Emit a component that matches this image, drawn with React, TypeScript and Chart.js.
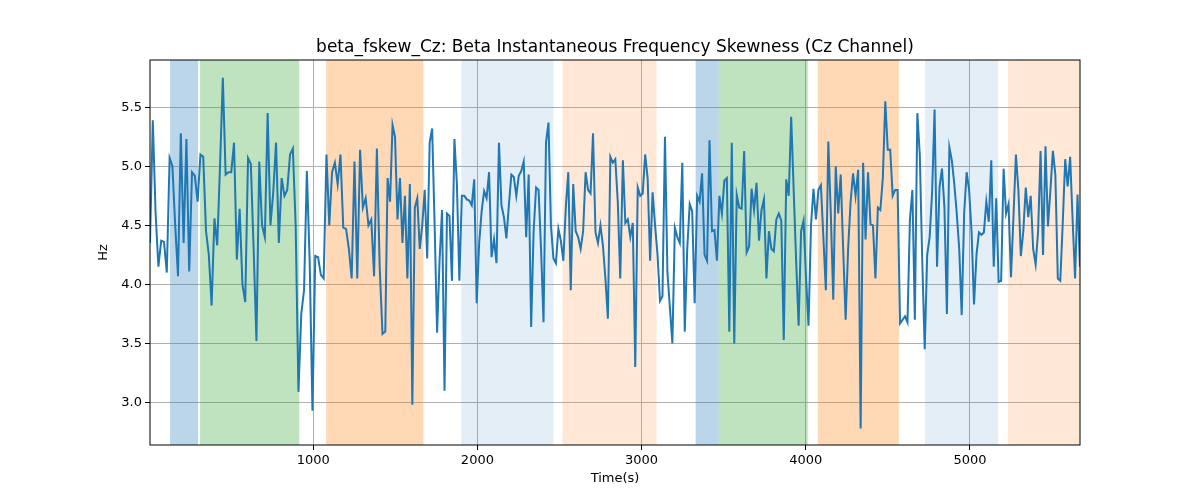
import React, { useEffect, useRef } from "react";
import { Chart, registerables } from "chart.js";

Chart.register(...registerables);

const title = "beta_fskew_Cz: Beta Instantaneous Frequency Skewness (Cz Channel)";
const xTicks = [1000, 2000, 3000, 4000, 5000];
const yTicks = [3.0, 3.5, 4.0, 4.5, 5.0, 5.5];
const tStart = 6;
const tEnd = 5670;

// values, in four stretches of time
const block1 = [
  4.35, 5.39, 4.6, 4.15, 4.37, 4.36, 4.1, 5.07, 5.0, 4.5, 4.07, 5.28, 4.35, 5.23, 4.11, 4.95,
  4.92, 4.7, 5.1, 5.08, 4.45, 4.25, 3.82, 4.56, 4.33, 5.0, 5.75, 4.93, 4.95, 4.95, 5.2, 4.21,
  4.64, 4.0, 3.85, 5.07, 5.02, 4.3, 3.52, 5.04, 4.5, 4.4, 5.45, 4.5, 4.78, 5.2, 4.35, 4.9,
  4.75, 4.8, 5.1, 5.15, 4.5, 3.09, 3.75, 3.95, 4.96, 4.2, 2.93, 4.24, 4.23, 4.08, 4.05, 5.1,
  4.5, 4.95, 5.03, 4.85, 5.1, 4.48, 4.47, 4.3, 4.05, 5.04, 4.05, 5.14, 4.65, 4.73, 4.5, 4.55,
  4.07, 5.15, 4.15, 3.58, 3.6,
];
const block2 = [
  4.9, 4.7, 5.35, 5.25, 4.55, 4.9, 4.35, 4.75, 4.05, 4.85, 2.98, 4.65, 4.73, 4.3, 4.5, 4.8,
  4.22, 5.2, 5.32, 4.5, 3.59, 4.2, 4.63, 3.1, 4.6, 4.58, 4.03, 5.23, 4.85, 4.03, 4.75, 4.75,
  4.72, 4.71, 4.67, 4.89, 3.84, 4.35, 4.62, 4.79, 4.73, 4.95, 4.23, 4.38, 4.18, 5.2, 4.67, 4.57,
  4.39, 4.67, 4.93, 4.91, 4.75, 4.92, 4.96, 5.04, 4.4, 4.93, 3.64, 4.45, 4.82, 4.8, 4.3, 3.68,
  5.2, 5.37, 4.5, 4.22, 4.18, 4.47, 4.37, 4.2, 4.65, 4.95, 3.95, 4.85, 4.45, 4.4, 4.3, 4.45,
  4.95, 4.8, 4.77, 5.28, 4.44, 4.35, 4.5, 4.33, 4.05, 3.71, 5.08, 5.03, 5.06, 4.7, 4.05,
];
const block3 = [
  5.05, 4.52, 4.55, 4.4, 4.52, 3.3, 4.82, 4.75, 4.77, 5.1, 4.9, 4.2, 4.78, 4.5, 4.25, 3.86,
  3.9, 5.25, 4.1, 3.8, 3.5, 4.48, 4.4, 4.35, 5.03, 3.6, 4.3, 4.68, 4.62, 3.84, 4.75, 4.7,
  4.94, 4.25, 4.2, 5.22, 4.45, 4.46, 4.2, 4.75, 4.6, 4.88, 4.9, 3.6, 5.2, 3.5, 4.76, 4.65,
  4.64, 5.13, 4.27, 4.32, 4.81, 4.63, 4.86, 4.37, 4.63, 4.72, 4.05, 4.45, 4.3, 4.28, 4.55, 4.6,
  4.54, 3.53, 4.89, 4.75, 5.42, 4.8, 4.2, 3.65, 4.45, 4.54, 4.05, 3.65, 4.5, 4.81, 4.55, 4.8,
  4.84, 4.4, 3.95, 5.21, 4.6, 3.87, 5.0, 4.6, 4.93, 4.3, 3.7, 4.3, 4.7, 4.94, 4.75,
];
const block4 = [
  4.97, 2.78, 5.03, 4.38, 4.95, 4.51, 4.5, 4.05, 4.65, 4.63, 4.9, 5.55, 5.14, 5.14, 4.75, 4.8,
  4.8, 3.67, 3.7, 3.73, 3.68, 4.55, 4.8, 3.7, 5.45, 5.1, 4.2, 3.45, 4.25, 4.4, 4.78, 5.48,
  4.15, 4.82, 4.98, 4.65, 3.75, 5.16, 5.05, 4.85, 4.6, 4.3, 3.74, 4.6, 4.95, 4.8, 4.45, 3.83,
  4.25, 4.44, 4.42, 4.44, 4.7, 4.53, 5.05, 4.15, 4.73, 4.02, 4.03, 4.98, 4.6, 4.68, 4.06, 4.57,
  5.1, 4.8, 4.24, 4.45, 4.82, 4.57, 4.75, 4.3, 4.17, 4.45, 5.13, 4.25, 5.17, 4.49, 4.8, 5.13,
  4.93, 4.05, 4.03, 4.52, 5.06, 4.83, 5.08, 4.55, 4.05, 4.76, 4.15,
];
const blockStarts = [6, 1453, 2886, 4319];
const blockEnds = [1439, 2870, 4303, 5670];

const blocks = [block1, block2, block3, block4];
const points = blocks.flatMap((b, k) =>
  b.map((v, i) => ({
    x: blockStarts[k] + (i * (blockEnds[k] - blockStarts[k])) / (b.length - 1),
    y: v,
  }))
);

const spanStarts = [128, 311, 1079, 1902, 2518, 3329, 3470, 4073, 4726, 5232];
const spanEnds = [299, 915, 1671, 2463, 3091, 3470, 4012, 4567, 5171, 5677];
const spanColors = [
  "rgba(31,119,180,0.3)",
  "rgba(44,160,44,0.3)",
  "rgba(255,127,14,0.3)",
  "rgba(31,119,180,0.12)",
  "rgba(255,127,14,0.17)",
  "rgba(31,119,180,0.3)",
  "rgba(44,160,44,0.3)",
  "rgba(255,127,14,0.3)",
  "rgba(31,119,180,0.12)",
  "rgba(255,127,14,0.17)",
];

const spansPlugin = {
  id: "spans",
  beforeDatasetsDraw(chart: any) {
    const { ctx, chartArea, scales } = chart;
    ctx.save();
    ctx.beginPath();
    ctx.rect(chartArea.left, chartArea.top, chartArea.right - chartArea.left, chartArea.bottom - chartArea.top);
    ctx.clip();
    spanStarts.forEach((s, i) => {
      const x0 = scales.x.getPixelForValue(s);
      const x1 = scales.x.getPixelForValue(spanEnds[i]);
      ctx.fillStyle = spanColors[i];
      ctx.fillRect(x0, chartArea.top, x1 - x0, chartArea.bottom - chartArea.top);
    });
    ctx.restore();
  },
  afterDraw(chart: any) {
    const { ctx, chartArea } = chart;
    ctx.save();
    ctx.strokeStyle = "#000";
    ctx.lineWidth = 1;
    ctx.strokeRect(chartArea.left, chartArea.top, chartArea.right - chartArea.left, chartArea.bottom - chartArea.top);
    ctx.fillStyle = "#000";
    ctx.font = "17px 'DejaVu Sans'";
    ctx.textAlign = "center";
    ctx.textBaseline = "alphabetic";
    ctx.fillText(title, (chartArea.left + chartArea.right) / 2, 52);
    ctx.restore();
  },
};

const App = () => {
  const canvasRef = useRef<HTMLCanvasElement | null>(null);

  useEffect(() => {
    document.body.style.margin = "0";
    if (!canvasRef.current) return;
    const font = { family: "'DejaVu Sans'", size: 13 };
    const chart = new Chart(canvasRef.current, {
      type: "line",
      data: {
        datasets: [
          {
            data: points,
            borderColor: "#1f77b4",
            borderWidth: 2,
            pointRadius: 0,
            tension: 0,
          },
        ],
      },
      options: {
        animation: false,
        responsive: false,
        layout: { padding: { top: 60, right: 120, left: 96, bottom: 12 } },
        plugins: { legend: { display: false }, tooltip: { enabled: false } },
        scales: {
          x: {
            type: "linear",
            min: tStart,
            max: tEnd,
            afterBuildTicks: (s: any) => {
              s.ticks = xTicks.map((v) => ({ value: v }));
            },
            afterFit: (s: any) => {
              s.height = 43;
            },
            grid: { color: "#b0b0b0", lineWidth: 1, tickLength: 5, tickColor: "#000" },
            border: { display: false },
            ticks: { color: "#000", font, maxRotation: 0, padding: 3, callback: (v: any) => String(v) },
            title: { display: true, text: "Time(s)", color: "#000", font, padding: 2 },
          },
          y: {
            min: 2.64,
            max: 5.9,
            afterBuildTicks: (s: any) => {
              s.ticks = yTicks.map((v) => ({ value: v }));
            },
            afterFit: (s: any) => {
              s.width = 54;
            },
            grid: { color: "#b0b0b0", lineWidth: 1, tickLength: 5, tickColor: "#000" },
            border: { display: false },
            ticks: { color: "#000", font, padding: 3, callback: (v: any) => Number(v).toFixed(1) },
            title: { display: true, text: "Hz", color: "#000", font, padding: 0 },
          },
        },
      },
      plugins: [spansPlugin],
    });
    return () => chart.destroy();
  }, []);

  return <canvas ref={canvasRef} width={1200} height={500} />;
};

export default App;
